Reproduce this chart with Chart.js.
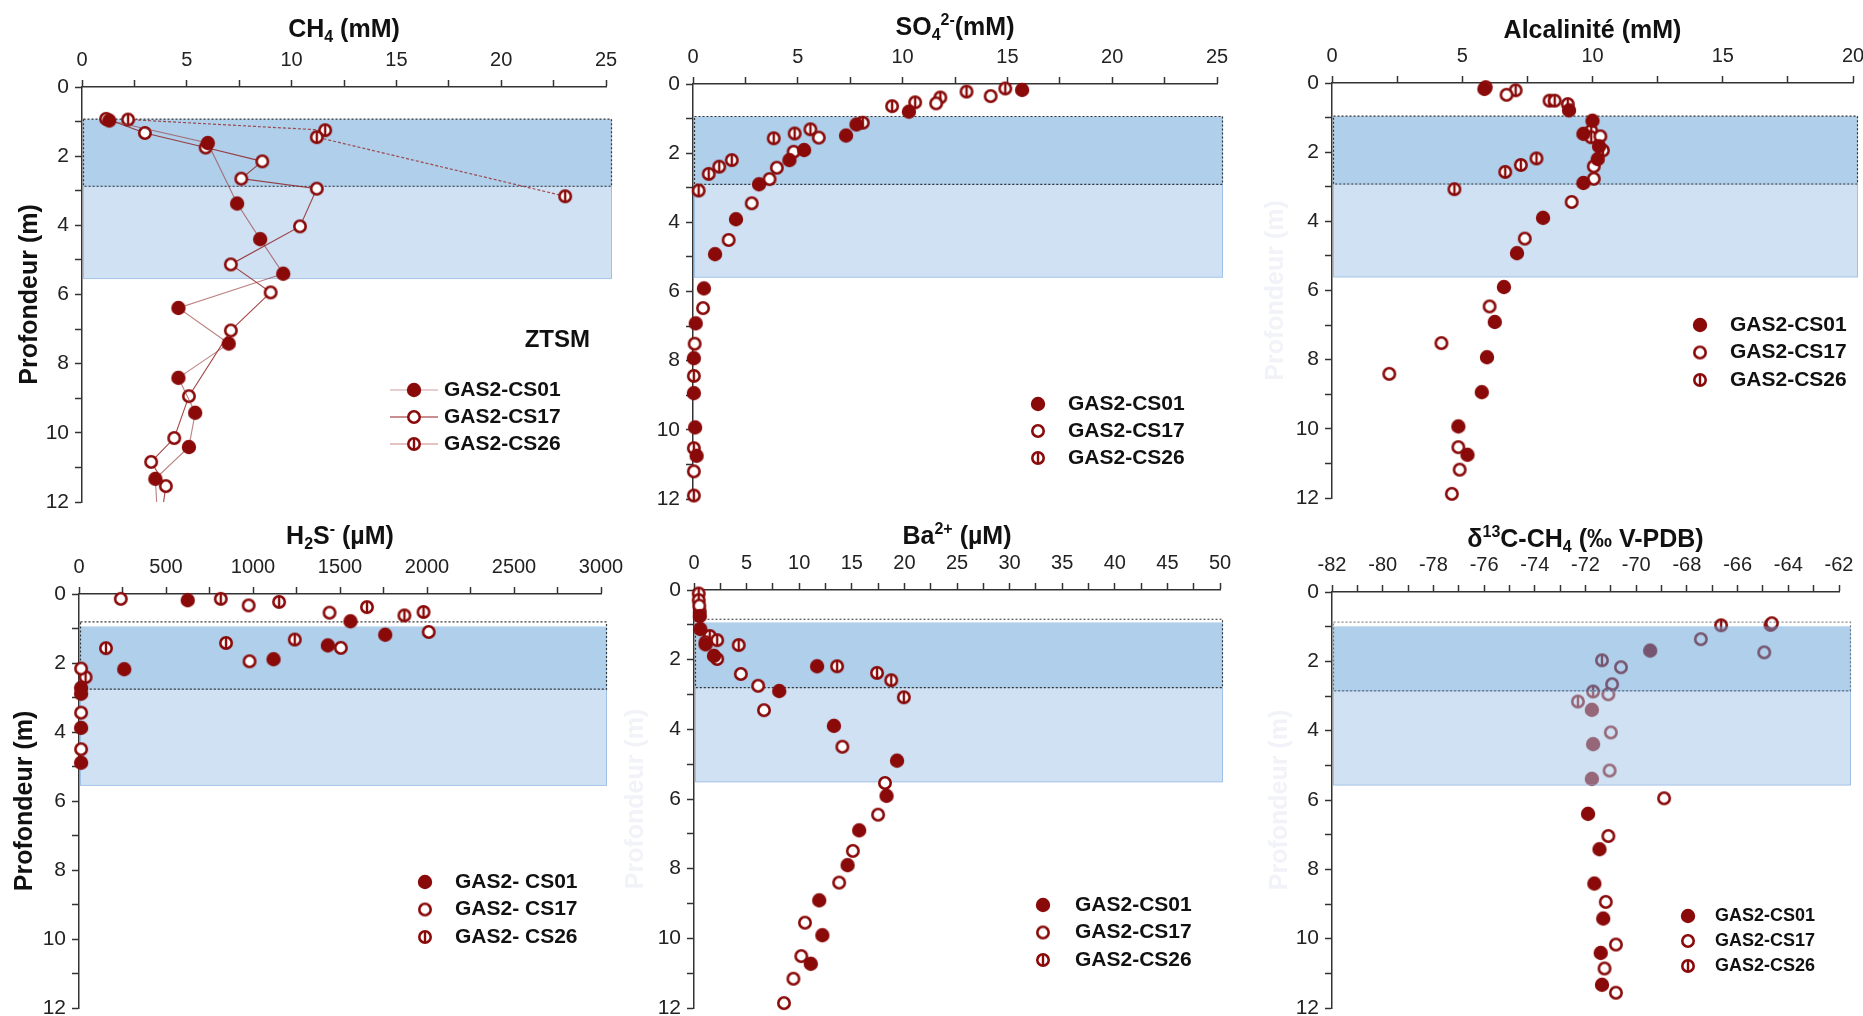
<!DOCTYPE html>
<html>
<head>
<meta charset="utf-8">
<script src="https://cdn.jsdelivr.net/npm/chart.js@4.4.1/dist/chart.umd.min.js"></script>
<style>
html,body{margin:0;padding:0;background:#fff;width:1863px;height:1016px;overflow:hidden;position:relative}
canvas{position:absolute}
</style>
</head>
<body>
<canvas id="p1" width="620" height="530" style="left:0px;top:0px"></canvas>
<canvas id="p2" width="620" height="530" style="left:620px;top:0px"></canvas>
<canvas id="p3" width="623" height="530" style="left:1240px;top:0px"></canvas>
<canvas id="p4" width="640" height="511" style="left:0px;top:505px"></canvas>
<canvas id="p5" width="620" height="511" style="left:620px;top:505px"></canvas>
<canvas id="p6" width="623" height="511" style="left:1240px;top:505px"></canvas>
<script>
// ---------------- DATA ----------------
const seriesNames = ['GAS2-CS01', 'GAS2-CS17', 'GAS2-CS26'];
const seriesNamesH2S = ['GAS2- CS01', 'GAS2- CS17', 'GAS2- CS26'];

// CH4 (mM)
const ch4_cs01 = [1.3, 6.0, 7.4, 8.5, 9.6, 4.6, 7.0, 4.6, 5.4, 5.1, 3.5, 3.6];
const ch4_cs01_depth = [0.97, 1.62, 3.37, 4.40, 5.40, 6.39, 7.42, 8.41, 9.42, 10.41, 11.33, 12.4];
const ch4_cs17 = [1.15, 3.0, 5.9, 8.6, 7.6, 11.2, 10.4, 7.1, 9.0, 7.1, 5.1, 4.4, 3.3, 4.0, 3.8];
const ch4_cs17_depth = [0.92, 1.33, 1.75, 2.15, 2.65, 2.94, 4.03, 5.13, 5.94, 7.04, 8.94, 10.15, 10.84, 11.54, 12.4];
const ch4_cs26 = [2.2, 11.6, 11.2, 23.05];
const ch4_cs26_depth = [0.94, 1.25, 1.45, 3.16];

// SO4 2- (mM)
const so4_cs01 = [15.7, 10.3, 7.8, 7.3, 5.3, 4.6, 3.15, 2.05, 1.05, 0.52, 0.13, 0.04, 0.04, 0.10, 0.17];
const so4_cs01_depth = [0.17, 0.80, 1.17, 1.49, 1.91, 2.20, 2.90, 3.91, 4.92, 5.91, 6.92, 7.93, 8.94, 9.93, 10.75];
const so4_cs17 = [14.2, 11.6, 6.0, 4.8, 4.0, 3.65, 2.8, 1.7, 0.48, 0.08, 0.04];
const so4_cs17_depth = [0.35, 0.56, 1.55, 1.96, 2.42, 2.75, 3.45, 4.51, 6.48, 7.51, 11.2];
const so4_cs26 = [14.9, 13.05, 11.8, 10.6, 9.5, 8.1, 5.6, 4.85, 3.85, 1.85, 1.25, 0.75, 0.27, 0.04, 0.04, 0.04];
const so4_cs26_depth = [0.13, 0.22, 0.39, 0.53, 0.64, 1.12, 1.31, 1.43, 1.57, 2.20, 2.39, 2.60, 3.08, 8.44, 10.53, 11.9];

// Alcalinité (mM)
const alk_cs01 = [5.85, 9.1, 10.0, 9.65, 10.25, 10.2, 9.65, 8.1, 7.1, 6.6, 6.25, 5.95, 5.75, 4.85, 5.2];
const alk_cs01_depth = [0.17, 0.79, 1.09, 1.47, 1.83, 2.20, 2.89, 3.90, 4.92, 5.90, 6.91, 7.93, 8.94, 9.93, 10.75];
const alk_cs17 = [6.7, 10.3, 10.05, 10.05, 9.2, 7.4, 6.05, 4.2, 2.2, 4.85, 4.9, 4.6];
const alk_cs17_depth = [0.34, 1.54, 2.41, 2.77, 3.44, 4.50, 6.46, 7.52, 8.41, 10.53, 11.18, 11.88];
const alk_cs26 = [5.9, 7.05, 8.35, 8.55, 9.05, 9.95, 9.95, 10.4, 7.85, 7.25, 6.65, 4.7];
const alk_cs26_depth = [0.12, 0.21, 0.51, 0.51, 0.61, 1.38, 1.57, 1.95, 2.18, 2.37, 2.57, 3.07];

// H2S- (µM)
const h2s_cs01 = [625, 1560, 1760, 1430, 1118, 260, 12, 12, 12, 12];
const h2s_cs01_depth = [0.18, 0.79, 1.18, 1.49, 1.89, 2.18, 2.72, 2.89, 3.88, 4.89];
const h2s_cs17 = [240, 975, 1440, 2010, 1505, 980, 12, 12, 12];
const h2s_cs17_depth = [0.14, 0.33, 0.54, 1.10, 1.56, 1.95, 2.16, 3.44, 4.50];
const h2s_cs26 = [815, 1150, 1655, 1870, 1980, 1240, 845, 155, 38];
const h2s_cs26_depth = [0.14, 0.23, 0.38, 0.62, 0.52, 1.32, 1.42, 1.57, 2.41];

// Ba2+ (µM)
const ba_cs01 = [0.55, 0.6, 1.1, 1.9, 11.7, 8.1, 13.3, 19.3, 18.3, 15.7, 14.6, 11.9, 12.2, 11.1];
const ba_cs01_depth = [0.75, 1.12, 1.56, 1.89, 2.19, 2.90, 3.90, 4.90, 5.91, 6.90, 7.90, 8.91, 9.91, 10.73];
const ba_cs17 = [0.5, 1.1, 2.2, 4.45, 6.1, 6.65, 14.1, 18.15, 17.5, 15.1, 13.8, 10.55, 10.2, 9.45, 8.55];
const ba_cs17_depth = [0.45, 1.50, 1.98, 2.41, 2.75, 3.45, 4.50, 5.54, 6.45, 7.49, 8.40, 9.55, 10.51, 11.16, 11.86];
const ba_cs26 = [0.45, 0.45, 0.55, 1.5, 2.2, 4.25, 13.6, 17.4, 18.75, 19.95];
const ba_cs26_depth = [0.10, 0.29, 0.62, 1.32, 1.44, 1.58, 2.19, 2.38, 2.59, 3.08];

// δ13C-CH4 (‰ V-PDB)
const d13c_cs01 = [-69.45, -71.75, -71.7, -71.75, -71.9, -71.45, -71.65, -71.3, -71.4, -71.35];
const d13c_cs01_depth = [1.69, 3.40, 4.39, 5.39, 6.40, 7.42, 8.41, 9.42, 10.41, 11.33];
const d13c_cs17 = [-64.65, -67.45, -64.95, -70.6, -70.95, -71.1, -71.0, -71.05, -68.9, -71.1, -71.2, -70.8, -71.25, -70.8];
const d13c_cs17_depth = [0.90, 1.36, 1.74, 2.17, 2.66, 2.95, 4.05, 5.15, 5.95, 7.04, 8.94, 10.17, 10.86, 11.56];
const d13c_cs26 = [-66.65, -64.7, -71.35, -71.7, -72.3];
const d13c_cs26_depth = [0.96, 0.95, 1.97, 2.87, 3.16];

// zones (m): dotted top, shaded top, dark-zone bottom, light-zone bottom
const zone_ch4 = [0.93, 0.93, 2.87, 5.54];
const zone_so4 = [0.94, 0.94, 2.90, 5.59];
const zone_alk = [0.96, 0.96, 2.92, 5.61];
const zone_h2s = [0.81, 0.94, 2.76, 5.55];
const zone_ba = [0.84, 0.93, 2.80, 5.51];
const zone_d13c = [0.87, 0.99, 2.85, 5.57];

// ---------------- STYLE / HELPERS ----------------
const RED = '#8A0A0A';
const FAMILY = '"Liberation Sans", Arial, Helvetica, sans-serif';
Chart.defaults.font.family = FAMILY;

function makeMarker(kind) {
  const s = 20, c = document.createElement('canvas');
  c.width = s; c.height = s;
  const g = c.getContext('2d');
  const cx = s / 2, cy = s / 2;
  if (kind === 'filled') {
    g.beginPath(); g.arc(cx, cy, 7.2, 0, 2 * Math.PI); g.fillStyle = RED; g.fill();
  } else {
    const R = 7.0, lw = 2.6;
    g.beginPath(); g.arc(cx, cy, R - lw / 2, 0, 2 * Math.PI);
    g.fillStyle = '#fff'; g.fill();
    g.lineWidth = lw; g.strokeStyle = RED; g.stroke();
    if (kind === 'half') {
      g.beginPath(); g.moveTo(cx, cy - R + lw / 2); g.lineTo(cx, cy + R - lw / 2);
      g.lineWidth = 2.4; g.stroke();
    }
  }
  return c;
}
const markers = [makeMarker('filled'), makeMarker('open'), makeMarker('half')];

function plainText(ctx, text, x, y, font, align) {
  ctx.save();
  ctx.font = font; ctx.textBaseline = 'middle'; ctx.textAlign = align; ctx.fillStyle = '#111';
  ctx.fillText(text, x, y);
  ctx.restore();
}

function drawBand(chart, p) {
  const {ctx, chartArea: ca} = chart;
  const y = chart.scales.y;
  const z = p.zone;
  const x0 = ca.left + 1, x1 = ca.right + p.bandExt;
  const yDot = y.getPixelForValue(z[0]), yTop = y.getPixelForValue(z[1]);
  const yMid = y.getPixelForValue(z[2]), yBot = y.getPixelForValue(z[3]);
  ctx.save();
  ctx.fillStyle = p.bandOnTop ? 'rgba(159,195,229,0.5)' : '#CFE1F2';
  ctx.fillRect(x0, yMid, x1 - x0, yBot - yMid);
  ctx.strokeStyle = 'rgba(140,180,225,0.7)'; ctx.lineWidth = 1;
  ctx.strokeRect(x0 + 0.5, yMid, x1 - x0 - 1, yBot - yMid);
  ctx.fillStyle = p.bandOnTop ? 'rgba(97,159,213,0.5)' : '#B0CFEA';
  ctx.fillRect(x0, yTop, x1 - x0, yMid - yTop);
  ctx.setLineDash([2, 2]);
  ctx.strokeStyle = p.bandOnTop ? 'rgba(40,40,50,0.55)' : '#333';
  ctx.lineWidth = 1.2;
  ctx.strokeRect(x0 + 0.5, yDot, x1 - x0 - 1, yMid - yDot);
  ctx.restore();
}

function drawTitle(chart, p) {
  const {ctx, chartArea: ca} = chart;
  const size = 25;
  const big = `bold ${size}px ${FAMILY}`, small = `bold ${Math.round(size * 0.62)}px ${FAMILY}`;
  ctx.save();
  let total = 0;
  const parts = p.title.map(s => {
    ctx.font = s.k ? small : big;
    const w = ctx.measureText(s.t).width;
    total += w;
    return {t: s.t, k: s.k, w};
  });
  ctx.translate((ca.left + ca.right) / 2, ca.top - p.titleOff);
  let x = -total / 2;
  ctx.fillStyle = '#111'; ctx.textBaseline = 'alphabetic'; ctx.textAlign = 'left';
  parts.forEach(s => {
    ctx.font = s.k ? small : big;
    const dy = s.k === 'sub' ? size * 0.2 : (s.k === 'sup' ? -size * 0.42 : 0);
    ctx.fillText(s.t, x, dy);
    x += s.w;
  });
  ctx.restore();
}

function drawLegend(chart, p) {
  const {ctx} = chart;
  const L = p.legend;
  for (let i = 0; i < 3; i++) {
    const y = L.y + i * L.dy;
    if (L.lines) {
      ctx.save();
      ctx.strokeStyle = L.lines[i]; ctx.lineWidth = 1.5;
      ctx.beginPath(); ctx.moveTo(L.mx - 24, y); ctx.lineTo(L.mx + 24, y); ctx.stroke();
      ctx.restore();
    }
    const img = markers[i];
    ctx.drawImage(img, L.mx - img.width / 2, y - img.height / 2);
    plainText(ctx, L.names[i], L.tx, y, `bold ${L.size}px ${FAMILY}`, 'left');
  }
}

function decorPlugin(p) {
  return {
    id: 'decor',
    beforeDatasetsDraw(chart) { if (!p.bandOnTop) drawBand(chart, p); },
    afterDatasetsDraw(chart) { if (p.bandOnTop) drawBand(chart, p); },
    afterDraw(chart) {
      drawTitle(chart, p);
      drawLegend(chart, p);
      if (p.note) plainText(chart.ctx, p.note.text, p.note.x, p.note.y, `bold 24px ${FAMILY}`, 'right');
    }
  };
}

function isMult(v, m) { const r = v / m; return Math.abs(r - Math.round(r)) < 1e-6; }

function makeChart(id, p) {
  const canvas = document.getElementById(id);
  const datasets = p.series.map((s, i) => ({
    label: p.legend.names[i],
    data: s.x.map((v, k) => ({x: v, y: s.d[k]})),
    pointStyle: markers[i],
    pointRadius: 7,
    pointHoverRadius: 7,
    showLine: !!p.lines,
    borderColor: p.lines ? p.lines[i].color : RED,
    borderWidth: p.lines ? p.lines[i].width : 0,
    borderDash: p.lines ? p.lines[i].dash : [],
    backgroundColor: RED,
    clip: p.lines ? {left: 12, top: 12, right: 12, bottom: 0} : 12
  }));
  const axisCommon = {
    grid: {display: true, drawOnChartArea: false, drawTicks: true, tickLength: 7, tickColor: '#333', tickWidth: 1.5},
    border: {display: true, color: '#333', width: 1.5}
  };
  return new Chart(canvas, {
    type: 'scatter',
    data: {datasets},
    options: {
      responsive: false,
      animation: false,
      events: [],
      layout: {padding: {left: 0, top: 0, right: p.pad.right, bottom: p.pad.bottom}},
      plugins: {legend: {display: false}, tooltip: {enabled: false}},
      scales: {
        x: Object.assign({
          type: 'linear', position: 'top', min: p.xmin, max: p.xmax,
          ticks: {
            stepSize: p.xminor, autoSkip: false, maxRotation: 0, padding: 8, color: '#222',
            font: {size: 20},
            callback: v => isMult(v, p.xmajor) ? String(Math.round(v)) : ''
          },
          afterFit: s => { s.height = p.pad.top; s.paddingLeft = 0; s.paddingRight = 0; }
        }, axisCommon),
        y: Object.assign({
          type: 'linear', position: 'left', reverse: true, min: 0, max: 12,
          ticks: {
            stepSize: 1, autoSkip: false, padding: 6, color: '#222',
            font: {size: 21},
            callback: v => isMult(v, 2) ? String(Math.round(v)) : ''
          },
          title: {
            display: p.ytitle !== null, text: 'Profondeur (m)', color: p.ytitle || '#111',
            font: {size: 25, weight: 'bold'}, padding: {top: p.ytitlePad, bottom: 0}
          },
          afterFit: s => { s.width = p.pad.left; s.paddingTop = 0; s.paddingBottom = 0; }
        }, axisCommon)
      }
    },
    plugins: [decorPlugin(p)]
  });
}

const GHOST = '#F1F3F8';

// Panel 1: CH4
makeChart('p1', {
  series: [{x: ch4_cs01, d: ch4_cs01_depth}, {x: ch4_cs17, d: ch4_cs17_depth}, {x: ch4_cs26, d: ch4_cs26_depth}],
  lines: [
    {color: 'rgba(150,60,60,0.65)', width: 1.1, dash: []},
    {color: 'rgba(140,25,25,0.8)', width: 1.1, dash: []},
    {color: 'rgba(150,40,40,0.8)', width: 1.2, dash: [3, 2]}
  ],
  xmin: 0, xmax: 25, xminor: 2.5, xmajor: 5,
  pad: {left: 82, top: 87, right: 14, bottom: 28},
  ytitle: '#111', ytitlePad: 15,
  zone: zone_ch4, bandExt: 6, bandOnTop: false,
  title: [{t: 'CH'}, {t: '4', k: 'sub'}, {t: ' (mM)'}], titleOff: 50,
  legend: {names: seriesNames, mx: 414, tx: 444, y: 390, dy: 27, size: 21,
           lines: ['rgba(225,190,190,1)', 'rgba(185,105,105,1)', 'rgba(220,175,175,1)']},
  note: {text: 'ZTSM', x: 590, y: 340}
});

// Panel 2: SO4
makeChart('p2', {
  series: [{x: so4_cs01, d: so4_cs01_depth}, {x: so4_cs17, d: so4_cs17_depth}, {x: so4_cs26, d: so4_cs26_depth}],
  xmin: 0, xmax: 25, xminor: 2.5, xmajor: 5,
  pad: {left: 73, top: 84, right: 23, bottom: 31},
  ytitle: null, ytitlePad: 0,
  zone: zone_so4, bandExt: 6, bandOnTop: false,
  title: [{t: 'SO'}, {t: '4', k: 'sub'}, {t: '2-', k: 'sup'}, {t: '(mM)'}], titleOff: 49,
  legend: {names: seriesNames, mx: 418, tx: 448, y: 404, dy: 27, size: 21}
});

// Panel 3: Alcalinité
makeChart('p3', {
  series: [{x: alk_cs01, d: alk_cs01_depth}, {x: alk_cs17, d: alk_cs17_depth}, {x: alk_cs26, d: alk_cs26_depth}],
  xmin: 0, xmax: 20, xminor: 2.5, xmajor: 5,
  pad: {left: 92, top: 83, right: 10, bottom: 32},
  ytitle: GHOST, ytitlePad: 21,
  zone: zone_alk, bandExt: 5, bandOnTop: false,
  title: [{t: 'Alcalinité (mM)'}], titleOff: 45,
  legend: {names: seriesNames, mx: 460, tx: 490, y: 325, dy: 27.5, size: 21}
});

// Panel 4: H2S
makeChart('p4', {
  series: [{x: h2s_cs01, d: h2s_cs01_depth}, {x: h2s_cs17, d: h2s_cs17_depth}, {x: h2s_cs26, d: h2s_cs26_depth}],
  xmin: 0, xmax: 3000, xminor: 250, xmajor: 500,
  pad: {left: 79, top: 89, right: 39, bottom: 8},
  ytitle: '#111', ytitlePad: 10,
  zone: zone_h2s, bandExt: 6, bandOnTop: false,
  title: [{t: 'H'}, {t: '2', k: 'sub'}, {t: 'S'}, {t: '-', k: 'sup'}, {t: ' (µM)'}], titleOff: 50,
  legend: {names: seriesNamesH2S, mx: 425, tx: 455, y: 377, dy: 27.5, size: 21}
});

// Panel 5: Ba
makeChart('p5', {
  series: [{x: ba_cs01, d: ba_cs01_depth}, {x: ba_cs17, d: ba_cs17_depth}, {x: ba_cs26, d: ba_cs26_depth}],
  xmin: 0, xmax: 50, xminor: 2.5, xmajor: 5,
  pad: {left: 74, top: 85, right: 20, bottom: 8},
  ytitle: GHOST, ytitlePad: 1,
  zone: zone_ba, bandExt: 3, bandOnTop: false,
  title: [{t: 'Ba'}, {t: '2+', k: 'sup'}, {t: ' (µM)'}], titleOff: 46,
  legend: {names: seriesNames, mx: 423, tx: 455, y: 400, dy: 27.5, size: 21}
});

// Panel 6: δ13C-CH4
makeChart('p6', {
  series: [{x: d13c_cs01, d: d13c_cs01_depth}, {x: d13c_cs17, d: d13c_cs17_depth}, {x: d13c_cs26, d: d13c_cs26_depth}],
  xmin: -82, xmax: -62, xminor: 1, xmajor: 2,
  pad: {left: 92, top: 87, right: 24, bottom: 8},
  ytitle: GHOST, ytitlePad: 25,
  zone: zone_d13c, bandExt: 12, bandOnTop: true,
  title: [{t: 'δ'}, {t: '13', k: 'sup'}, {t: 'C-CH'}, {t: '4', k: 'sub'}, {t: ' (‰ V-PDB)'}], titleOff: 45,
  legend: {names: seriesNames, mx: 448, tx: 475, y: 411, dy: 25, size: 18}
});
</script>
</body>
</html>
